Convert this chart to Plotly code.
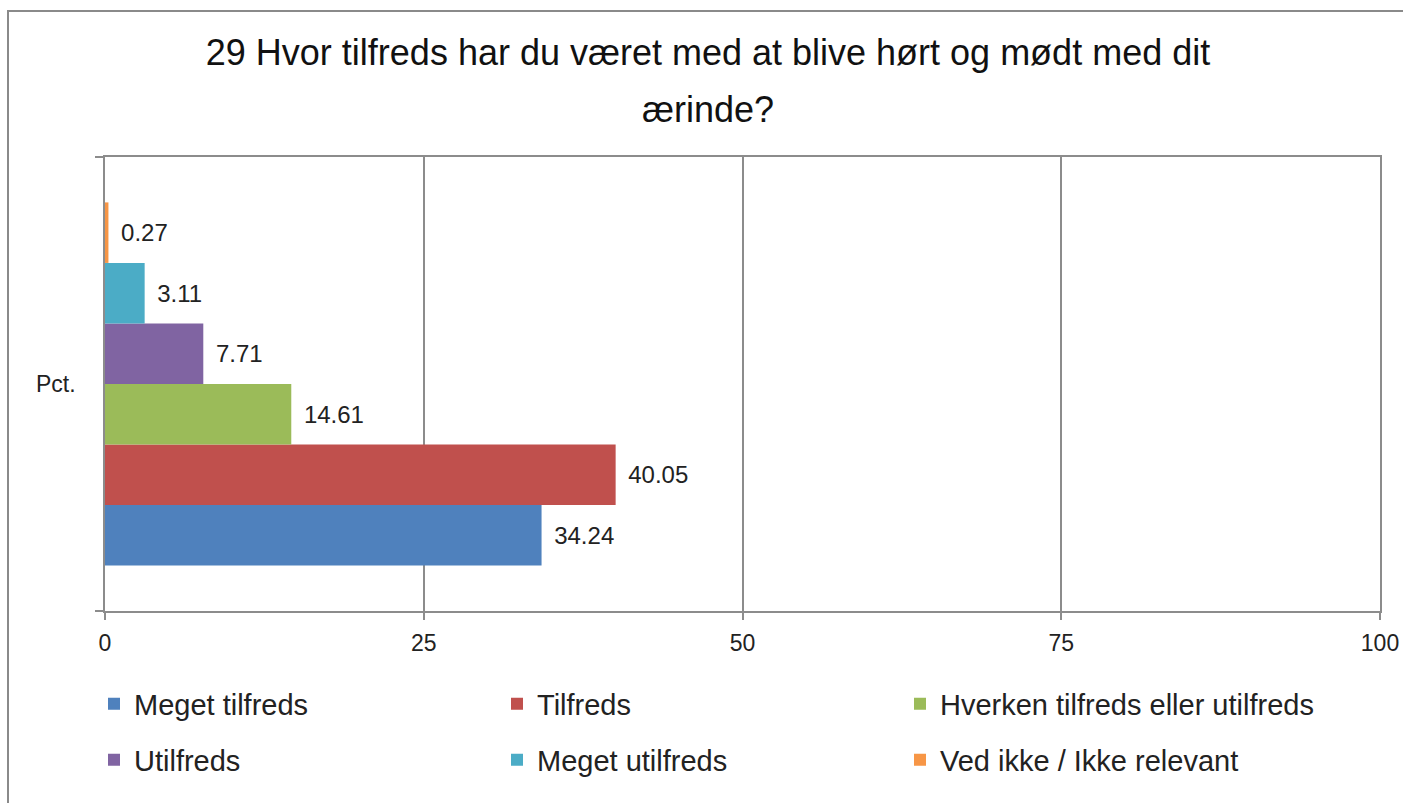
import plotly.graph_objects as go

category = ["Pct."]
series_names = ["Meget tilfreds", "Tilfreds", "Hverken tilfreds eller utilfreds",
                "Utilfreds", "Meget utilfreds", "Ved ikke / Ikke relevant"]
series_values = [34.24, 40.05, 14.61, 7.71, 3.11, 0.27]
series_colors = ["#4F81BD", "#C0504D", "#9BBB59", "#8064A2", "#4BACC6", "#F79646"]
x_ticks = [0, 25, 50, 75, 100]
title_line1 = "29 Hvor tilfreds har du været med at blive hørt og mødt med dit"
title_line2 = "ærinde?"

FONT = "Liberation Sans"
GRID = "#8c8c8c"

W, H = 1403, 803
# target plot area in page pixels
PL, PR, PT, PB = 105, 1380, 157, 611
L, T = PL, PT
R, B = W - PR, H - PB
pw, ph = W - L - R, H - T - B


def px_to_paper_x(px):
    return (px - L) / pw


def px_to_paper_y(py):
    return (H - B - py) / ph


# legend layout: 3 columns x 2 rows (page pixels)
legend_cols = [94, 497, 900]
legend_rows = [704, 760]

fig = go.Figure()
legend_layouts = {}
for i, (name, val, col) in enumerate(zip(series_names, series_values, series_colors)):
    lname = f"legend{i + 2}"
    fig.add_trace(go.Bar(
        y=category, x=[val], name=name, orientation="h",
        marker=dict(color=col, line=dict(width=0)),
        text=[f"{val:.2f}"], texttemplate="\u2009\u2009%{text}",
        textposition="outside", cliponaxis=False, showlegend=True,
        textfont=dict(family=FONT, size=24, color="#222222"),
        legend=lname,
    ))
    legend_layouts[lname] = dict(
        x=px_to_paper_x(legend_cols[i % 3]), y=px_to_paper_y(legend_rows[i // 3]),
        orientation="h", xanchor="left", yanchor="middle", visible=True,
        font=dict(family=FONT, size=29, color="#222222"),
        bgcolor="rgba(0,0,0,0)", itemwidth=30,
    )

fig.update_layout(
    width=W, height=H, showlegend=True,
    margin=dict(l=L, r=R, t=T, b=B, autoexpand=False),
    paper_bgcolor="white", plot_bgcolor="white",
    barmode="group", bargap=0.2, bargroupgap=0,
    title=dict(text=title_line1, x=708 / W, xanchor="center",
               y=1 - 52 / H, yanchor="middle", yref="container",
               font=dict(family=FONT, size=36, color="#111111")),
    xaxis=dict(range=[0, 100], tickvals=x_ticks, showgrid=True, gridcolor=GRID, gridwidth=1.5,
               showline=True, linecolor=GRID, linewidth=1.5, mirror=True,
               ticks="outside", ticklen=7, tickcolor=GRID, tickwidth=1.5,
               zeroline=False, ticklabelstandoff=4,
               tickfont=dict(family=FONT, size=23, color="#222222")),
    yaxis=dict(type="category", showgrid=False, showline=True, linecolor=GRID, linewidth=1.5,
               mirror=True, ticks="outside", tickson="boundaries", ticklen=8,
               tickcolor=GRID, tickwidth=1.5, ticklabelstandoff=23,
               tickfont=dict(family=FONT, size=23, color="#222222")),
    annotations=[dict(text=title_line2, xref="paper", yref="paper",
                      x=px_to_paper_x(708), y=px_to_paper_y(110),
                      xanchor="center", yanchor="middle", showarrow=False,
                      font=dict(family=FONT, size=36, color="#111111"))],
    shapes=[dict(type="rect", xref="paper", yref="paper",
                 x0=px_to_paper_x(8), x1=px_to_paper_x(1450),
                 y0=px_to_paper_y(850), y1=px_to_paper_y(11),
                 line=dict(color="#8a8a8a", width=2), fillcolor="rgba(0,0,0,0)", layer="below")],
    **legend_layouts,
)

fig.write_html(
    "out.html",
    config={"displayModeBar": False},
    post_script="document.body.style.margin='0';document.body.style.overflow='hidden';",
)
